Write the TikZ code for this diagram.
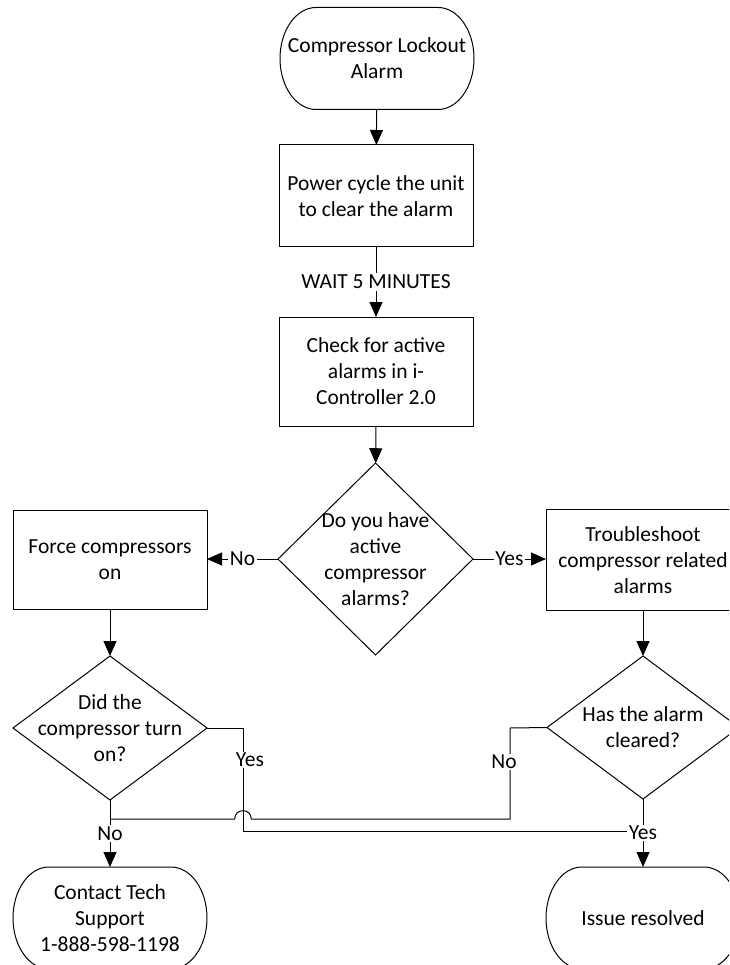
\documentclass[tikz,border=0pt]{standalone}
\usepackage{fontspec}
\setmainfont{Carlito}
\usetikzlibrary{shapes.geometric,arrows.meta}

% outline of a terminator: flat top and bottom, elliptical ends
\newcommand{\termoutline}[1]{%
  \draw[line] ([xshift=36pt]#1.north west) -- ([xshift=-36pt]#1.north east)
    arc[start angle=90,end angle=-90,x radius=36pt,y radius=51pt]
    -- ([xshift=36pt]#1.south west)
    arc[start angle=270,end angle=90,x radius=36pt,y radius=51pt] -- cycle;}

\begin{document}
\begin{tikzpicture}[x=1pt,y=-1pt,
  every node/.style={font=\fontsize{21.5pt}{26pt}\selectfont, text=black},
  line/.style={draw=black, line width=1pt},
  arr/.style={line, -{Triangle[length=15pt,width=13pt]}},
  procbox/.style={draw=black, line width=1pt, rectangle, minimum width=194pt,
    align=center, inner sep=0pt, outer sep=0pt},
  termbox/.style={rectangle, minimum width=194pt, minimum height=102pt,
    align=center, inner sep=0pt, outer sep=0pt},
  decision/.style={draw=black, line width=1pt, diamond, inner sep=0pt, outer sep=0pt},
  txt/.style={align=center, inner sep=0pt},
  lbl/.style={fill=white, inner xsep=1.5pt, inner ysep=1.5pt},
]
\useasboundingbox (0,0) rectangle (729,965);
\clip (0,0) rectangle (729,965);

% start
\node[termbox] (start) at (377,58.5) {Compressor Lockout\\Alarm};
\termoutline{start}

% process steps
\node[procbox, minimum height=102pt] (cycle) at (376,196) {Power cycle the unit\\to clear the alarm};
\node[procbox, minimum height=109pt] (check) at (376,371.5) {Check for active\\alarms in i-\\Controller 2.0};

% first decision
\node[decision, minimum width=195pt, minimum height=192pt] (dq) at (375.5,559) {};
\node[txt] at (dq) {Do you have\\active\\compressor\\alarms?};

% branches
\node[procbox, minimum height=99pt] (force) at (110,560) {Force compressors\\on};
\node[procbox, minimum height=101pt] (trouble) at (643,560) {Troubleshoot\\compressor related\\alarms};

\node[decision, minimum width=194pt, minimum height=144pt] (turnon) at (110,728) {};
\node[txt] at (turnon) {Did the\\compressor turn\\on?};
\node[decision, minimum width=192pt, minimum height=143pt] (cleared) at (643,727.5) {};
\node[txt] at (cleared) {Has the alarm\\cleared?};

% end points
\node[termbox] (support) at (110,918) {Contact Tech\\Support\\1-888-598-1198};
\termoutline{support}
\node[termbox] (resolved) at (643,918) {Issue resolved};
\termoutline{resolved}

% junction points of the routed connectors
\coordinate (yesturn) at (243,728);
\coordinate (yesdown) at (243,831);
\coordinate (noclr) at (510,728);
\coordinate (noclrdown) at (510,819);

% main line
\draw[arr] (start) -- (cycle);
\draw[arr] (cycle) -- node[lbl]{WAIT 5 MINUTES} (check);
\draw[arr] (check) -- (dq);
\draw[arr] (dq.west) -- node[lbl]{No} (dq.west -| force.east);
\draw[arr] (dq.east) -- node[lbl]{Yes} (dq.east -| trouble.west);
\draw[arr] (force) -- (turnon);
\draw[arr] (trouble) -- (cleared);

% compressor turned on: route to the resolved end
\draw[line] (turnon.east) -- (yesturn) -- (yesdown) -- (yesdown -| resolved.north);
\node[lbl] at (250,760) {Yes};

% alarm not cleared: route to support, hopping over the line above
\draw[line] (cleared.west) -- (noclr) -- (noclrdown) -- (251.3,819)
  .. controls (251.3,807.9) and (234.7,807.9) .. (234.7,819) -- (110,819);
\node[lbl] at (504,762) {No};

\draw[arr] (turnon.south) -- node[lbl]{No} (support.north);
\draw[arr] (cleared.south) -- node[lbl]{Yes} (resolved.north);
\end{tikzpicture}
\end{document}
